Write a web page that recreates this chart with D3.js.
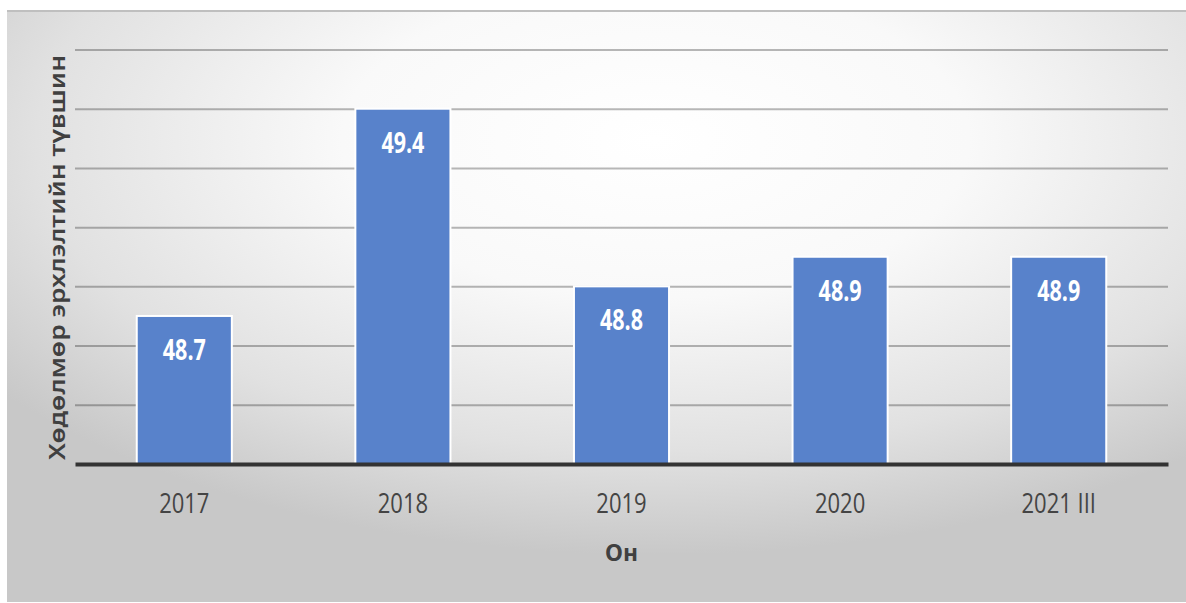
<!DOCTYPE html>
<html>
<head>
<meta charset="utf-8">
<script src="https://cdn.jsdelivr.net/npm/d3@7"></script>
<style>
  body { margin: 0; background: #fff; }
  svg { display: block; }
</style>
</head>
<body>
<svg id="chart" width="1186" height="603"></svg>
<script>
const years = ['2017', '2018', '2019', '2020', '2021 III'];
const values = [48.7, 49.4, 48.8, 48.9, 48.9];
const yTicks = [48.2, 48.4, 48.6, 48.8, 49.0, 49.2, 49.4, 49.6];
const yTitle = 'Хөдөлмөр эрхлэлтийн түвшин';
const xTitle = 'Он';

const width = 1186;
const height = 603;
const plot = { left: 75, right: 1168, top: 49.5, bottom: 464 };

const svg = d3.select('#chart');

// background with a soft radial fill, white near the top middle
const defs = svg.append('defs');
const grad = defs.append('radialGradient')
  .attr('id', 'bg')
  .attr('cx', 0.55).attr('cy', 0.22).attr('r', 0.7);
grad.append('stop').attr('offset', '0%').attr('stop-color', '#ffffff');
grad.append('stop').attr('offset', '38%').attr('stop-color', '#f9f9f9');
grad.append('stop').attr('offset', '75%').attr('stop-color', '#e1e1e1');
grad.append('stop').attr('offset', '100%').attr('stop-color', '#c8c8c8');

svg.append('rect')
  .attr('x', 7).attr('y', 10)
  .attr('width', width - 7).attr('height', 592)
  .attr('fill', 'url(#bg)');

svg.append('line')
  .attr('x1', 7).attr('x2', width)
  .attr('y1', 11).attr('y2', 11)
  .attr('stroke', '#bfbfbf')
  .attr('stroke-width', 2);

const x = d3.scaleBand()
  .domain(years)
  .range([plot.left, plot.right])
  .paddingInner(0.565)
  .paddingOuter(0.2825);

const y = d3.scaleLinear()
  .domain([yTicks[0], yTicks[yTicks.length - 1]])
  .range([plot.bottom, plot.top]);

// gridlines
const grid = svg.append('g')
  .attr('transform', `translate(${plot.left},0)`)
  .call(d3.axisLeft(y)
    .tickValues(yTicks.slice(1))
    .tickSize(-(plot.right - plot.left))
    .tickFormat(''));
grid.select('.domain').remove();
grid.selectAll('.tick line')
  .attr('stroke', '#000')
  .attr('stroke-opacity', 0.28)
  .attr('stroke-width', 2);

// bars
svg.append('g')
  .selectAll('rect')
  .data(values)
  .enter()
  .append('rect')
  .attr('x', (d, i) => x(years[i]))
  .attr('y', (d) => y(d))
  .attr('width', x.bandwidth())
  .attr('height', (d) => plot.bottom - y(d))
  .attr('fill', '#5882cb')
  .attr('stroke', '#ffffff')
  .attr('stroke-width', 2);

// baseline
const xAxis = svg.append('g')
  .attr('transform', `translate(0,${plot.bottom})`)
  .call(d3.axisBottom(x).tickSize(0).tickPadding(0));
xAxis.select('.domain')
  .attr('stroke', '#333333')
  .attr('stroke-width', 4);
xAxis.selectAll('.tick text')
  .attr('y', 0)
  .attr('dy', 0)
  .attr('transform', 'translate(0,49) scale(1,1.27)')
  .attr('font-family', '"Open Sans", sans-serif')
  .attr('font-size', 22)
  .attr('fill', '#444444');

// value labels inside the bars
svg.append('g')
  .selectAll('text')
  .data(values)
  .enter()
  .append('text')
  .text((d) => d.toFixed(1))
  .attr('transform', (d, i) =>
    `translate(${x(years[i]) + x.bandwidth() / 2},${y(d) + 44}) scale(1,1.3)`)
  .attr('text-anchor', 'middle')
  .attr('font-family', '"Open Sans", sans-serif')
  .attr('font-weight', 'bold')
  .attr('font-size', 21.5)
  .attr('fill', '#ffffff');

// axis titles
svg.append('text')
  .text(xTitle)
  .attr('x', (plot.left + plot.right) / 2)
  .attr('y', 561)
  .attr('text-anchor', 'middle')
  .attr('font-family', '"Noto Sans", sans-serif')
  .attr('font-weight', 'bold')
  .attr('font-size', 23)
  .attr('fill', '#404040');

svg.append('text')
  .text(yTitle)
  .attr('transform', 'translate(65,257.5) rotate(-90)')
  .attr('text-anchor', 'middle')
  .attr('textLength', 405)
  .attr('lengthAdjust', 'spacingAndGlyphs')
  .attr('font-family', '"Noto Sans", sans-serif')
  .attr('font-weight', 600)
  .attr('font-size', 21)
  .attr('fill', '#404040');
</script>
</body>
</html>
